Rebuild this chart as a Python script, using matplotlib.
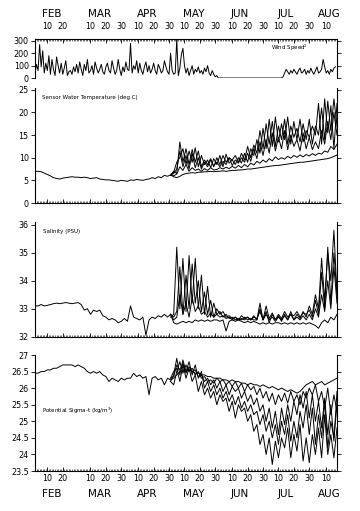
import numpy as np
import matplotlib
matplotlib.use("Agg")
import matplotlib.pyplot as plt
import matplotlib.transforms as mtransforms

# ---------------- data (day of year) ----------------
wind_first_day = 33
wind_speed_sq = [
    40, 110, 60, 270, 90, 220, 40, 120, 60, 180, 30, 150, 70, 20, 170, 100, 40, 120, 30, 80,
    140, 20, 50, 60, 30, 90, 50, 110,
    40, 130, 70, 20, 110, 60, 150, 40, 60, 100, 30, 130, 80, 40, 70, 110, 50, 30, 90, 120,
    60, 40, 140, 80, 30, 60, 150, 70, 20, 90,
    50, 130, 70, 60, 280, 40, 100, 70, 140, 40, 120, 60, 30, 90, 130, 50, 100, 40, 70, 120,
    60, 30, 110, 80, 40, 60, 140, 90, 50, 30,
    200, 60, 30, 40, 310, 20, 80, 190, 240, 100,
    40, 80, 20, 60, 100, 30, 70, 50, 90, 40, 60, 30, 80, 50, 100, 40, 20, 60, 30, 10, 20, 0, 0,
    0, 0, 0, 0, 0, 0, 0, 0, 0, 0, 0, 0, 0, 0, 0, 0, 0, 0, 0, 0,
    0, 0, 0, 0, 0, 0, 0, 0, 0, 0, 0, 0, 0, 0, 0, 0, 0, 0, 0, 0,
    10, 40, 70, 50, 30, 60, 40, 70, 50, 30, 60, 80, 40, 50, 70, 30, 60, 40, 80, 50,
    30, 60, 90, 40, 50, 70, 150, 90, 40, 60, 30, 70, 50, 80, 90,
]

early_first_day = 33   # every 2 days up to day 121
late_first_day = 121   # every 2 days up to day 229

temp_early = [7.0, 7.0, 6.9, 6.6, 6.3, 6.0, 5.6, 5.4, 5.3, 5.5, 5.6, 5.7, 5.8, 5.7, 5.7,
              5.6, 5.7, 5.6, 5.4, 5.5, 5.6, 5.3, 5.2, 5.1, 5.1, 5.0, 4.9, 4.8, 5.0, 4.9,
              4.8, 5.1, 5.0, 5.2, 5.1, 5.0, 5.2, 5.3, 5.6, 5.4, 5.8, 5.6, 6.1, 5.9, 6.2]
temp_s1 = [6.2, 5.8, 5.6, 5.9, 6.3, 6.5, 6.6, 6.7, 6.6, 6.8, 6.8, 6.9, 6.9, 7.0, 6.9, 7.0, 7.0,
           7.1, 7.0, 7.1, 7.2, 7.2, 7.3, 7.3, 7.4, 7.5, 7.5, 7.6, 7.7, 7.8, 7.9, 8.0, 8.1, 8.2,
           8.3, 8.3, 8.4, 8.5, 8.6, 8.7, 8.8, 8.9, 9.0, 9.0, 9.1, 9.2, 9.3, 9.4, 9.5, 9.6, 9.7,
           9.8, 10.0, 10.3, 10.6]
temp_s2 = [6.2, 6.0, 6.4, 8.0, 7.2, 8.5, 7.0, 7.8, 7.2, 7.5, 7.0, 7.6, 7.2, 7.8, 7.3, 7.4, 7.8,
           7.5, 7.9, 7.6, 8.1, 7.7, 8.3, 7.8, 8.5, 8.0, 8.8, 8.4, 9.2, 8.8, 9.5, 9.0, 9.8, 9.3,
           10.2, 9.6, 10.0, 9.7, 10.3, 9.9, 10.5, 10.1, 10.6, 10.2, 10.7, 10.4, 10.9, 10.5, 11.0,
           10.8, 11.5, 11.2, 12.5, 11.8, 13.0]
temp_s3 = [6.2, 6.5, 7.5, 11.5, 8.0, 10.5, 7.5, 11.0, 7.8, 10.0, 7.5, 9.0, 8.0, 9.5, 8.2, 9.0,
           8.0, 9.2, 8.5, 10.0, 8.3, 9.5, 8.8, 10.0, 9.0, 11.0, 9.2, 12.0, 9.8, 13.5, 10.5, 14.0,
           11.0, 15.5, 11.5, 14.5, 12.0, 16.0, 11.8, 15.0, 12.5, 14.0, 11.5, 15.5, 12.0, 14.5,
           11.8, 13.5, 12.0, 16.0, 13.0, 18.0, 14.0, 20.0, 15.0]
temp_s4 = [6.2, 7.0, 6.5, 13.5, 9.0, 12.0, 8.5, 11.8, 9.0, 11.5, 8.0, 9.5, 8.5, 9.8, 8.0, 10.0,
           8.5, 10.5, 9.0, 10.0, 9.5, 10.5, 9.0, 11.0, 9.5, 12.5, 10.0, 12.8, 11.0, 16.0, 12.0,
           17.5, 13.0, 18.0, 12.5, 17.0, 14.0, 18.5, 13.0, 17.0, 14.5, 16.5, 13.5, 17.5, 14.0,
           18.5, 13.0, 17.0, 15.0, 21.0, 14.0, 22.5, 16.0, 23.0, 17.0]
temp_s5 = [6.2, 6.8, 9.0, 10.0, 12.0, 8.5, 11.5, 9.0, 12.2, 8.0, 10.5, 8.5, 9.5, 7.8, 9.8, 8.5,
           10.5, 8.0, 10.8, 8.8, 9.5, 8.5, 10.0, 8.8, 11.0, 9.0, 12.0, 10.5, 14.0, 11.0, 16.5,
           12.0, 18.5, 12.5, 19.0, 13.5, 17.5, 14.0, 19.0, 13.0, 18.0, 14.0, 18.5, 13.5, 16.0,
           14.5, 17.0, 15.0, 22.0, 13.0, 23.0, 15.5, 21.5, 12.0, 22.0]

sal_early = [33.1, 33.1, 33.15, 33.1, 33.12, 33.15, 33.18, 33.2, 33.18, 33.2,
             33.22, 33.2, 33.18, 33.2, 33.22, 33.15, 32.95, 33.0, 32.8, 32.95,
             32.9, 32.95, 32.75, 32.7, 32.6, 32.65, 32.6, 32.5, 32.55, 32.65,
             32.55, 33.1, 32.7, 32.65, 32.6, 32.7, 32.05, 32.6, 32.7, 32.65,
             32.75, 32.7, 32.8, 32.7, 32.8]
sal_s1 = [32.8, 32.5, 32.45, 32.5, 32.55, 32.5, 32.55, 32.5, 32.6, 32.55, 32.6, 32.55, 32.6,
          32.55, 32.6, 32.6, 32.55, 32.6, 32.2, 32.55, 32.6, 32.55, 32.6, 32.55, 32.5, 32.55,
          32.5, 32.55, 32.5, 32.45, 32.5, 32.45, 32.5, 32.45, 32.5, 32.5, 32.45, 32.5, 32.45,
          32.5, 32.45, 32.5, 32.45, 32.5, 32.45, 32.5, 32.45, 32.4, 32.3, 32.5, 32.6, 32.5,
          32.7, 32.6, 32.8]
sal_s2 = [32.8, 32.6, 32.7, 33.5, 32.8, 33.2, 32.7, 33.4, 32.9, 33.1, 32.8, 32.9, 32.7, 32.85,
          32.7, 32.8, 32.7, 32.75, 32.65, 32.7, 32.6, 32.7, 32.6, 32.65, 32.6, 32.7, 32.6,
          32.75, 32.6, 33.0, 32.6, 32.8, 32.6, 32.7, 32.55, 32.7, 32.6, 32.75, 32.6, 32.8, 32.6,
          32.7, 32.6, 32.75, 32.6, 32.8, 32.6, 33.0, 32.7, 33.5, 32.9, 34.0, 33.0, 34.5, 33.2]
sal_s3 = [32.8, 32.7, 32.9, 34.5, 32.8, 34.2, 33.0, 34.6, 33.2, 34.0, 32.9, 33.6, 32.8, 33.3,
          32.7, 33.0, 32.8, 32.9, 32.7, 32.75, 32.65, 32.7, 32.6, 32.75, 32.65, 32.7, 32.6,
          32.7, 32.65, 32.9, 32.6, 33.1, 32.65, 32.85, 32.6, 32.8, 32.65, 32.9, 32.7, 32.8,
          32.75, 32.9, 32.7, 32.85, 32.8, 32.95, 32.7, 33.3, 32.8, 34.3, 33.0, 35.2, 33.2, 35.0,
          33.5]
sal_s4 = [32.7, 32.8, 35.2, 33.0, 34.8, 32.9, 34.9, 33.2, 34.8, 33.0, 34.2, 32.8, 33.8, 32.7,
          33.2, 32.8, 32.9, 32.7, 32.8, 32.65, 32.7, 32.6, 32.65, 32.6, 32.7, 32.6, 32.65, 32.6,
          32.6, 33.2, 32.6, 32.9, 32.5, 32.8, 32.6, 32.75, 32.55, 32.8, 32.6, 32.9, 32.6, 32.8,
          32.65, 32.9, 32.7, 33.1, 32.8, 33.5, 33.0, 34.8, 33.3, 35.0, 34.0, 35.8, 33.5]

sig_early = [26.45, 26.45, 26.5, 26.5, 26.55, 26.55, 26.6, 26.6, 26.65, 26.7,
             26.7, 26.7, 26.7, 26.65, 26.7, 26.65, 26.6, 26.5, 26.45, 26.5,
             26.45, 26.5, 26.4, 26.35, 26.2, 26.3, 26.25, 26.2, 26.3, 26.25,
             26.3, 26.3, 26.45, 26.35, 26.4, 26.3, 26.35, 25.8, 26.3, 26.35,
             26.25, 26.3, 26.1, 26.3, 26.25]
sig_s1 = [26.25, 26.3, 26.4, 26.5, 26.55, 26.5, 26.55, 26.5, 26.45, 26.45, 26.4, 26.4, 26.35,
          26.35, 26.3, 26.3, 26.3, 26.25, 26.25, 26.2, 26.25, 26.2, 26.2, 26.15, 26.15, 26.1,
          26.15, 26.1, 26.1, 26.05, 26.1, 26.05, 26.0, 26.05, 26.0, 25.95, 26.0, 25.95, 25.9,
          25.95, 25.9, 25.85, 25.9, 26.0, 26.1, 26.15, 26.2, 26.1, 26.15, 26.2, 26.1, 26.15,
          26.2, 26.25, 26.3]
sig_s2 = [26.2, 26.1, 26.5, 26.8, 26.45, 26.7, 26.5, 26.6, 26.4, 26.5, 26.3, 26.35, 26.2, 26.25,
          26.15, 26.3, 26.2, 26.25, 26.1, 26.2, 26.05, 26.2, 26.0, 26.15, 25.9, 26.1, 25.95,
          26.05, 25.8, 26.0, 25.7, 25.9, 25.6, 25.85, 25.5, 25.8, 25.6, 25.85, 25.55, 25.9, 25.6,
          25.8, 25.5, 25.9, 25.7, 26.0, 25.8, 26.1, 25.6, 25.9, 25.4, 26.0, 25.2, 25.8, 25.3]
sig_s3 = [26.2, 26.4, 26.9, 26.4, 26.85, 26.5, 26.8, 26.4, 26.7, 26.3, 26.5, 26.0, 26.2, 25.9,
          26.1, 25.8, 26.0, 25.7, 25.9, 25.6, 25.8, 25.5, 25.75, 25.4, 25.6, 25.3, 25.5, 25.2,
          25.3, 24.9, 25.2, 24.7, 25.0, 24.5, 24.9, 24.3, 25.0, 24.6, 25.2, 24.4, 25.0, 24.5,
          25.3, 24.8, 25.5, 24.6, 25.4, 24.3, 25.2, 24.5, 25.6, 24.2, 25.0, 24.5, 25.5]
sig_s4 = [26.3, 26.5, 26.6, 26.2, 26.7, 26.3, 26.6, 26.2, 26.4, 25.9, 26.2, 25.8, 26.0, 25.7,
          25.9, 25.5, 25.8, 25.6, 25.7, 25.3, 25.6, 25.1, 25.5, 25.3, 25.4, 25.0, 25.2, 24.7,
          24.9, 24.3, 24.6, 24.0, 24.5, 23.7, 24.4, 23.9, 24.5, 24.2, 24.8, 23.9, 24.6, 24.1,
          24.9, 23.8, 24.5, 23.75, 24.6, 24.0, 24.8, 23.9, 25.2, 24.0, 24.6, 23.9, 24.8]
sig_s5 = [26.3, 26.35, 26.7, 26.55, 26.75, 26.45, 26.65, 26.5, 26.55, 26.35, 26.4, 26.2, 26.3,
          26.1, 26.25, 26.0, 26.2, 25.9, 26.1, 25.8, 26.05, 25.9, 26.0, 25.7, 25.9, 25.6, 25.8,
          25.5, 25.7, 25.3, 25.5, 25.0, 25.4, 24.8, 25.3, 24.6, 25.4, 24.9, 25.5, 25.0, 25.6,
          25.2, 25.8, 25.4, 25.9, 25.1, 25.8, 25.0, 25.6, 24.8, 25.7, 24.6, 25.5, 24.4, 25.9]

month_names = ["FEB", "MAR", "APR", "MAY", "JUN", "JUL", "AUG"]
month_label_days = [44, 75, 106, 136, 166, 196, 224]
day_tick_days = [41, 51, 69, 79, 89, 100, 110, 120, 130, 140, 150, 161, 171, 181,
                 191, 201, 211, 222]
day_tick_labels = ["10", "20", "10", "20", "30", "10", "20", "30", "10", "20", "30",
                   "10", "20", "30", "10", "20", "30", "10"]

panel_titles = ["Wind Speed$^2$", "Sensor Water Temperature (deg C)",
                "Salinity (PSU)", "Potential Sigma-t (kg/m$^3$)"]

# ---------------- figure ----------------
fig = plt.figure(figsize=(3.6, 5.11), dpi=100)
fig.patch.set_facecolor("white")

L, W = 35 / 360, 302 / 360
def axrect(top_px, bot_px):
    return [L, 1 - bot_px / 511, W, (bot_px - top_px) / 511]

ax_w = fig.add_axes(axrect(39, 78))
ax_t = fig.add_axes(axrect(88, 203))
ax_s = fig.add_axes(axrect(222, 336.7))
ax_g = fig.add_axes(axrect(355, 471))

xlim = (33, 229)
lw = 0.7
tick_fs = 5.8

def style(ax):
    ax.set_xlim(*xlim)
    ax.set_xticks(day_tick_days)
    ax.set_xticks(np.arange(33, 230, 1), minor=True)
    ax.tick_params(axis="x", which="major", direction="in", length=3, width=0.6,
                   labelsize=5.8, pad=2)
    ax.tick_params(axis="x", which="minor", direction="in", length=1.5, width=0.4)
    ax.tick_params(axis="y", which="major", direction="out", length=3, width=0.6,
                   left=True, right=True, labelsize=tick_fs, pad=1.5)
    for s in ax.spines.values():
        s.set_linewidth(0.8)

early_days = np.arange(early_first_day, early_first_day + 2 * len(temp_early), 2)
late_days = np.arange(late_first_day, late_first_day + 2 * len(temp_s1), 2)

# Wind
wind_days = np.arange(wind_first_day, wind_first_day + len(wind_speed_sq))
ax_w.plot(wind_days, wind_speed_sq, color="black", lw=lw)
style(ax_w)
ax_w.set_ylim(0, 315)
ax_w.set_yticks([0, 100, 200, 300])
ax_w.xaxis.tick_top()
ax_w.tick_params(axis="x", which="both", top=True, bottom=False, labeltop=True,
                 labelbottom=False)
ax_w.tick_params(axis="x", which="major", pad=6)
ax_w.set_xticklabels(day_tick_labels)
ax_w.spines["bottom"].set_visible(False)
ax_w.text(0.78, 0.77, panel_titles[0], transform=ax_w.transAxes, fontsize=4,
          va="center", ha="left")
trans_w = mtransforms.blended_transform_factory(ax_w.transData, fig.transFigure)
for name, d in zip(month_names, month_label_days):
    fig.text(d, 1 - 14 / 511, name, transform=trans_w, fontsize=7.5, ha="center",
             va="center")

# Temperature
ax_t.plot(early_days, temp_early, color="black", lw=lw)
for s in [temp_s1, temp_s2, temp_s3, temp_s4, temp_s5]:
    ax_t.plot(late_days, s, color="black", lw=lw)
style(ax_t)
ax_t.set_ylim(0, 25.4)
ax_t.set_yticks([0, 5, 10, 15, 20, 25])
ax_t.tick_params(axis="x", labelbottom=False)
ax_t.spines["top"].set_visible(False)
ax_t.text(0.023, 0.92, panel_titles[1], transform=ax_t.transAxes, fontsize=4,
          va="center", ha="left")

# Salinity
ax_s.plot(early_days, sal_early, color="black", lw=lw)
for s in [sal_s1, sal_s2, sal_s3, sal_s4]:
    ax_s.plot(late_days, s, color="black", lw=lw)
style(ax_s)
ax_s.set_ylim(32, 36.1)
ax_s.set_yticks([32, 33, 34, 35, 36])
ax_s.tick_params(axis="x", labelbottom=False)
ax_s.spines["top"].set_visible(False)
ax_s.text(0.026, 0.92, panel_titles[2], transform=ax_s.transAxes, fontsize=4,
          va="center", ha="left")

# Sigma-t
ax_g.plot(early_days, sig_early, color="black", lw=lw)
for s in [sig_s1, sig_s2, sig_s3, sig_s4, sig_s5]:
    ax_g.plot(late_days, s, color="black", lw=lw)
style(ax_g)
ax_g.set_ylim(23.5, 27.0)
ax_g.set_yticks([23.5, 24, 24.5, 25, 25.5, 26, 26.5, 27])
ax_g.set_yticklabels(["23.5", "24", "24.5", "25", "25.5", "26", "26.5", "27"])
ax_g.set_xticklabels(day_tick_labels)
ax_g.spines["top"].set_visible(False)
ax_g.text(0.023, 0.517, panel_titles[3], transform=ax_g.transAxes, fontsize=4,
          va="center", ha="left")
trans_g = mtransforms.blended_transform_factory(ax_g.transData, fig.transFigure)
for name, d in zip(month_names, month_label_days):
    fig.text(d, 1 - 494 / 511, name, transform=trans_g, fontsize=7.5, ha="center",
             va="center")

fig.savefig("out.png", dpi=100, facecolor="white")
